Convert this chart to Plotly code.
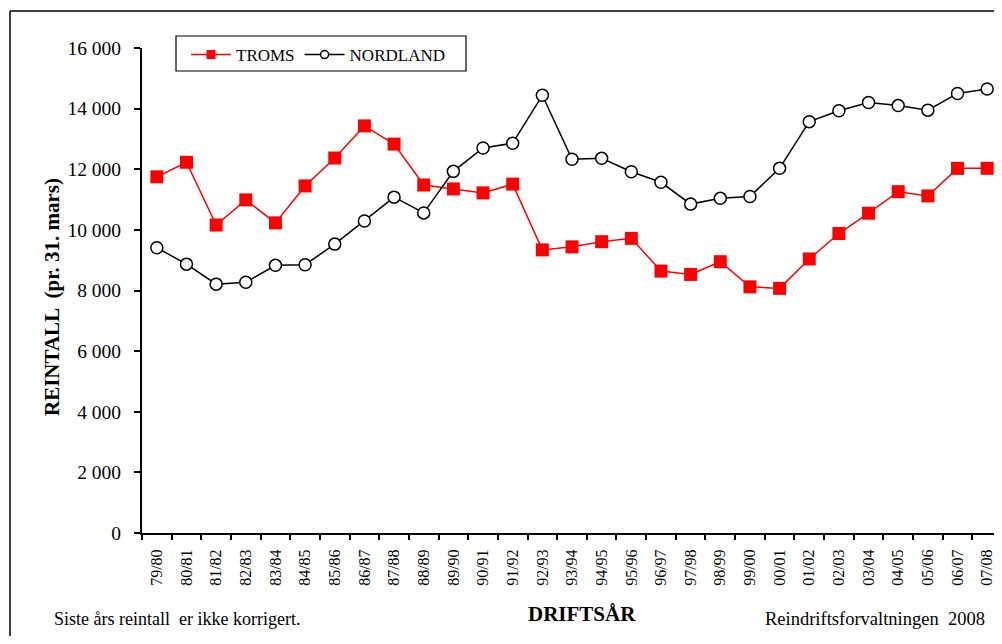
import plotly.graph_objects as go

seasons = ["79/80", "80/81", "81/82", "82/83", "83/84", "84/85", "85/86", "86/87",
           "87/88", "88/89", "89/90", "90/91", "91/92", "92/93", "93/94", "94/95",
           "95/96", "96/97", "97/98", "98/99", "99/00", "00/01", "01/02", "02/03",
           "03/04", "04/05", "05/06", "06/07", "07/08"]

troms = [11750, 12230, 10160, 10990, 10230, 11450, 12370, 13430, 12830, 11480,
         11350, 11220, 11510, 9340, 9440, 9610, 9720, 8640, 8530, 8950,
         8120, 8070, 9040, 9880, 10550, 11260, 11120, 12030, 12030]

nordland = [9410, 8870, 8210, 8270, 8830, 8850, 9530, 10290, 11080, 10560,
            11930, 12700, 12860, 14440, 12330, 12360, 11920, 11570, 10850, 11040,
            11100, 12030, 13570, 13930, 14200, 14100, 13950, 14500, 14650]

y_ticks = [0, 2000, 4000, 6000, 8000, 10000, 12000, 14000, 16000]
y_tick_text = ["0", "2 000", "4 000", "6 000", "8 000", "10 000", "12 000", "14 000", "16 000"]

FONT = "Liberation Serif, Times New Roman, serif"
RED = "#FF0000"

fig = go.Figure()
fig.add_trace(go.Scatter(
    x=seasons, y=troms, name="TROMS", mode="lines+markers", showlegend=False,
    line=dict(color=RED, width=1.5),
    marker=dict(symbol="square", size=13, color=RED, line=dict(width=0)),
))
fig.add_trace(go.Scatter(
    x=seasons, y=nordland, name="NORDLAND", mode="lines+markers", showlegend=False,
    line=dict(color="black", width=1.5),
    marker=dict(symbol="circle", size=12, color="white", line=dict(color="black", width=1.5)),
))
# legend entries (smaller symbols, as in the reference legend)
fig.add_trace(go.Scatter(
    x=[None], y=[None], name="TROMS", mode="lines+markers",
    line=dict(color=RED, width=1.5),
    marker=dict(symbol="square", size=9, color=RED, line=dict(width=0)),
))
fig.add_trace(go.Scatter(
    x=[None], y=[None], name="NORDLAND", mode="lines+markers",
    line=dict(color="black", width=1.5),
    marker=dict(symbol="circle", size=8, color="white", line=dict(color="black", width=1.5)),
))

OFF = 8  # default page body margin
W, H = 1002 - OFF, 644 - 2 * OFF   # keep page free of scrollbars
L = 142 - OFF
T = 48 - OFF
B = H - (533 - OFF)
R = 0
pw = W - L - R
ph = H - T - B

def px_x(x):
    return (x - OFF - L) / pw

def px_y(y):
    return (H - B - (y - OFF)) / ph

fig.update_layout(
    width=W, height=H,
    margin=dict(l=L, r=R, t=T, b=B, pad=0),
    paper_bgcolor="white", plot_bgcolor="white",
    font=dict(family=FONT, color="black"),
    showlegend=True,
    legend=dict(
        orientation="h", x=px_x(186), y=px_y(37), xanchor="left", yanchor="top",
        borderwidth=0, bgcolor="rgba(0,0,0,0)",
        font=dict(family=FONT, size=17, color="black"),
        itemwidth=40, tracegroupgap=0,
    ),
    xaxis=dict(
        type="category", range=[-0.5, 28.5],
        showline=True, linecolor="black", linewidth=2,
        ticks="outside", tickson="boundaries", ticklen=5, tickwidth=1.5, tickcolor="black",
        tickangle=-90, tickfont=dict(family=FONT, size=16, color="black"),
        ticklabelstandoff=8,
        showgrid=False, zeroline=False,
    ),
    yaxis=dict(
        range=[0, 16000], tickmode="array", tickvals=y_ticks, ticktext=y_tick_text,
        showline=True, linecolor="black", linewidth=2,
        ticks="outside", ticklen=6, tickwidth=1.5, tickcolor="black",
        tickfont=dict(family=FONT, size=19.5, color="black"),
        ticklabelstandoff=9,
        showgrid=False, zeroline=False,
    ),
    shapes=[
        dict(type="line", xref="paper", yref="paper", x0=px_x(10), x1=px_x(10),
             y0=px_y(11), y1=px_y(660), line=dict(color="black", width=1.5)),
        dict(type="line", xref="paper", yref="paper", x0=px_x(10), x1=px_x(1010),
             y0=px_y(11), y1=px_y(11), line=dict(color="black", width=1.5)),
        # legend frame
        dict(type="rect", xref="paper", yref="paper", x0=px_x(176), x1=px_x(466),
             y0=px_y(71), y1=px_y(36), line=dict(color="black", width=1.2),
             fillcolor="white", layer="below"),
    ],
    annotations=[
        dict(text="<b>REINTALL  (pr. 31. mars)</b>", xref="paper", yref="paper",
             x=px_x(52), y=px_y(297), textangle=-90, showarrow=False,
             xanchor="center", yanchor="middle", font=dict(family=FONT, size=21)),
        dict(text="<b>DRIFTSÅR</b>", xref="paper", yref="paper",
             x=px_x(582), y=px_y(614), showarrow=False,
             xanchor="center", yanchor="middle", font=dict(family=FONT, size=21)),
        dict(text="Siste års reintall  er ikke korrigert.", xref="paper", yref="paper",
             x=px_x(52), y=px_y(619), showarrow=False,
             xanchor="left", yanchor="middle", font=dict(family=FONT, size=18)),
        dict(text="Reindriftsforvaltningen  2008", xref="paper", yref="paper",
             x=px_x(987), y=px_y(619), showarrow=False,
             xanchor="right", yanchor="middle", font=dict(family=FONT, size=18.5)),
    ],
)

fig.write_html("out.html")
